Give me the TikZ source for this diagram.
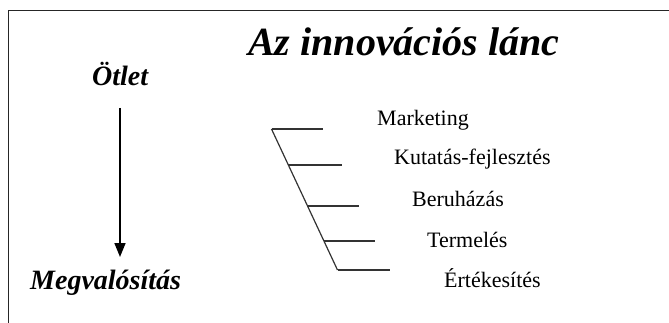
\documentclass[tikz,border=0pt]{standalone}
\usepackage{fontspec}
\setmainfont{Liberation Serif}
\newfontfamily\bifont{Liberation Serif Bold Italic}
\usetikzlibrary{arrows.meta, calc}

\begin{document}
\begin{tikzpicture}[
  x=1pt, y=-1pt,
  % Define styles for different elements
  title/.style={font=\fontsize{40}{48}\bifont, anchor=base west, inner sep=0pt},
  stage/.style={font=\fontsize{28}{34}\bifont, anchor=base west, inner sep=0pt},
  link/.style={font=\fontsize{22}{26}\selectfont, anchor=base west, inner sep=0pt},
  frame/.style={draw=black!85, line width=1.6pt},
  rung/.style={draw=black!80, line width=1.2pt},
  spine/.style={draw=black!80, line width=1.2pt},
  arrow/.style={-{Triangle[width=11pt, length=14pt]}, line width=1.6pt}
]

\useasboundingbox (0,0) rectangle (669,323);

% Frame (only left and top edges visible)
\coordinate (frame_bot_left) at (8.5,323);
\coordinate (frame_top_left) at (8.5,10.5);
\coordinate (frame_top_right) at (669,10.5);
\draw[frame] (frame_bot_left) -- (frame_top_left) -- (frame_top_right);

% Title
\node[title] (heading) at (248,56) {Az innovációs lánc};

% Left column: idea to realisation
\node[stage] (idea) at (92,86) {Ötlet};
\node[stage] (realisation) at (30,289) {Megvalósítás};

\coordinate (arrow_top) at (120,108);
\coordinate (arrow_bot) at (120,257);
\draw[arrow] (arrow_top) -- (arrow_bot);

% Chain: slanted spine with rungs
\coordinate (spine_top) at (271.5,129);
\coordinate (spine_bot) at (337.5,270);
\draw[spine] (spine_top) -- (spine_bot);

\coordinate (rung1) at (spine_top);
\coordinate (rung2) at ($(spine_top)!0.2553!(spine_bot)$);
\coordinate (rung3) at ($(spine_top)!0.5461!(spine_bot)$);
\coordinate (rung4) at ($(spine_top)!0.7943!(spine_bot)$);
\coordinate (rung5) at (spine_bot);

\draw[rung] (rung1) -- ++(51,0);
\draw[rung] (rung2) -- ++(54,0);
\draw[rung] (rung3) -- ++(51,0);
\draw[rung] (rung4) -- ++(51,0);
\draw[rung] (rung5) -- ++(52,0);

% Chain labels
\node[link] (marketing) at (377,126) {Marketing};
\node[link] (rnd) at (394,165) {Kutatás-fejlesztés};
\node[link] (invest) at (412,207) {Beruházás};
\node[link] (production) at (427,247) {Termelés};
\node[link] (sales) at (444,287) {Értékesítés};

\end{tikzpicture}
\end{document}
